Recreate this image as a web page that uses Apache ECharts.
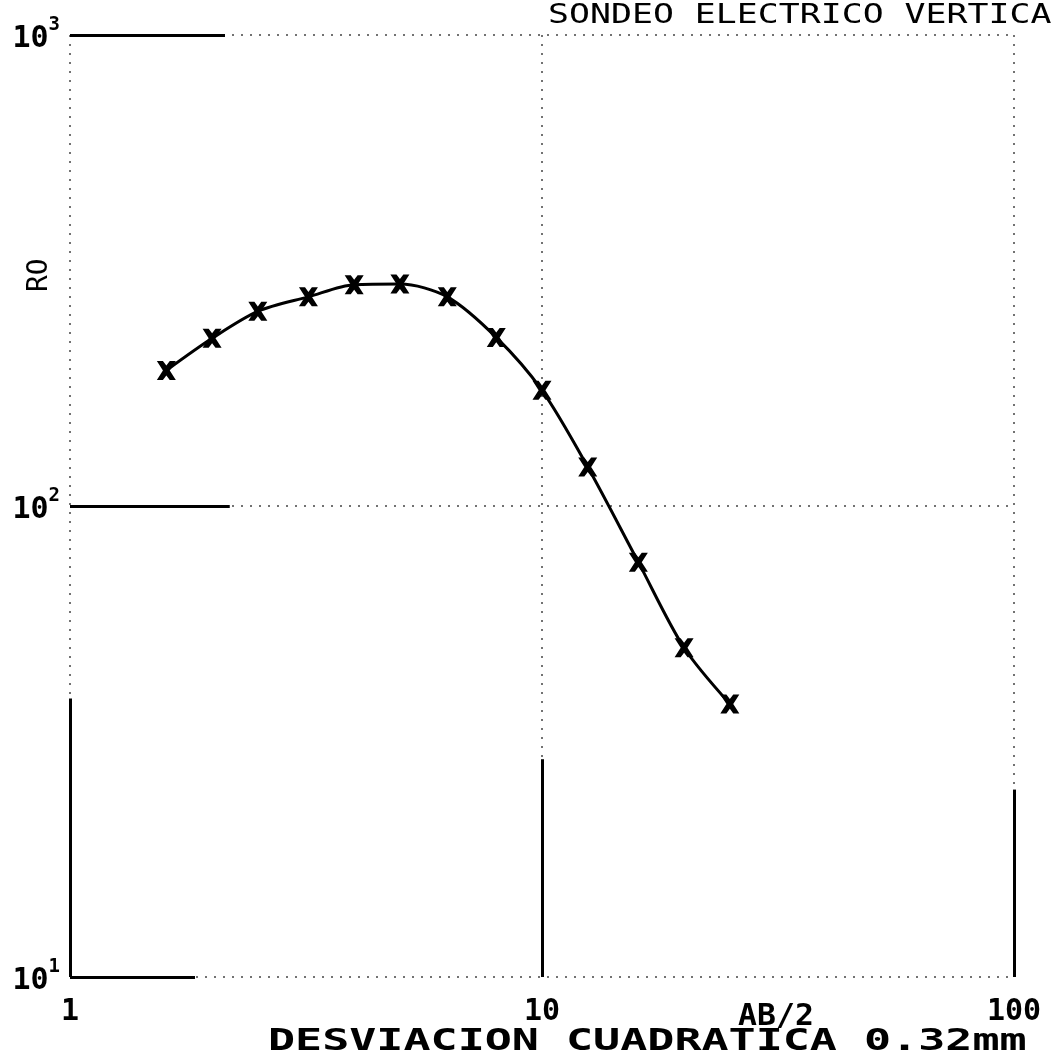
<!DOCTYPE html>
<html>
<head>
<meta charset="utf-8">
<script src="https://cdn.jsdelivr.net/npm/echarts@6/dist/echarts.min.js"></script>
<style>html,body{margin:0;padding:0;background:#fff;}#c{width:1051px;height:1058px;}</style>
</head>
<body>
<div id="c"></div>
<script>
// AB/2 spacing (m) and apparent resistivity RO (ohm·m)
const abHalf = [1.6, 2, 2.5, 3.2, 4, 5, 6.3, 8, 10, 12.5, 16, 20, 25];
const ro = [194, 227, 259, 278, 295, 296, 278, 228, 176, 121, 76, 50, 38];
const xTicks = [1, 10, 100];
const yTicks = [10, 100, 1000];
const titleText = 'SONDEO ELECTRICO VERTICAL';
const xLabelText = 'DESVIACION CUADRATICA 0.32mm';
const xUnitText = 'AB/2';
const yNameText = 'RO';

const FONT = '"DejaVu Sans Mono", monospace';
const chart = echarts.init(document.getElementById('c'));
const xMark = 'path://M0,0 L3.2,0 L5,2.4 L6.8,0 L10,0 L6.8,5 L10,10 L6.8,10 L5,7.6 L3.2,10 L0,10 L3.2,5 Z';

// heavier pen strokes along parts of the frame (data coordinates)
const penSegs = [
  [[1, 1000], [2.13, 1000]],
  [[1, 100], [2.18, 100]],
  [[1, 10], [1.84, 10]],
  [[1, 10], [1, 39]],
  [[10, 10], [10, 29]],
  [[100, 10], [100, 25]]
];

chart.setOption({
  backgroundColor: '#ffffff',
  animation: false,
  graphic: [
    { type: 'text', x: 548, y: 3, scaleX: 1.34,
      style: { text: titleText, font: 'normal 26px ' + FONT, fill: '#000', verticalAlign: 'top', textVerticalAlign: 'top' } },
    { type: 'text', x: 738, y: 1002, scaleX: 1.05,
      style: { text: xUnitText, font: 'bold 30px ' + FONT, fill: '#000', verticalAlign: 'top', textVerticalAlign: 'top' } },
    { type: 'text', x: 268, y: 1027, scaleX: 1.5,
      style: { text: xLabelText, font: 'bold 30px ' + FONT, fill: '#000', verticalAlign: 'top', textVerticalAlign: 'top' } },
    { type: 'text', x: 26, y: 292, rotation: Math.PI / 2,
      style: { text: yNameText, font: 'normal 28px ' + FONT, fill: '#000', verticalAlign: 'top', textVerticalAlign: 'top' } }
  ],
  grid: { left: 70, right: 37, top: 35, bottom: 81, containLabel: false, outerBoundsMode: 'none' },
  xAxis: {
    type: 'log', logBase: 10, min: xTicks[0], max: xTicks[xTicks.length - 1],
    axisLine: { show: false },
    axisTick: { show: false },
    axisLabel: { fontFamily: FONT, fontSize: 30, fontWeight: 'bold', color: '#000', margin: 20,
      formatter: v => String(v) },
    splitLine: { show: true, lineStyle: { color: '#444', width: 1.5, type: [2, 7] } }
  },
  yAxis: {
    type: 'log', logBase: 10, min: yTicks[0], max: yTicks[yTicks.length - 1],
    axisLine: { show: false },
    axisTick: { show: false },
    axisLabel: { margin: 10, color: '#000',
      formatter: v => '{b|10}{s|' + Math.round(Math.log10(v)) + '}',
      rich: {
        b: { fontFamily: FONT, fontSize: 30, fontWeight: 'bold', color: '#000', verticalAlign: 'bottom' },
        s: { fontFamily: FONT, fontSize: 19, fontWeight: 'bold', color: '#000', verticalAlign: 'top', padding: [0, 0, 20, 0] }
      } },
    splitLine: { show: true, lineStyle: { color: '#444', width: 1.5, type: [2, 7] } }
  },
  series: [{
    type: 'line',
    data: abHalf.map((x, i) => [x, ro[i]]),
    smooth: 0.3,
    symbol: xMark, symbolSize: 19,
    lineStyle: { color: '#000', width: 3 },
    itemStyle: { color: '#000' },
    markLine: {
      silent: true, symbol: ['none', 'none'], label: { show: false },
      lineStyle: { color: '#000', width: 3, type: 'solid' },
      data: penSegs.map(s => [{ coord: s[0] }, { coord: s[1] }])
    }
  }]
});
</script>
</body>
</html>
